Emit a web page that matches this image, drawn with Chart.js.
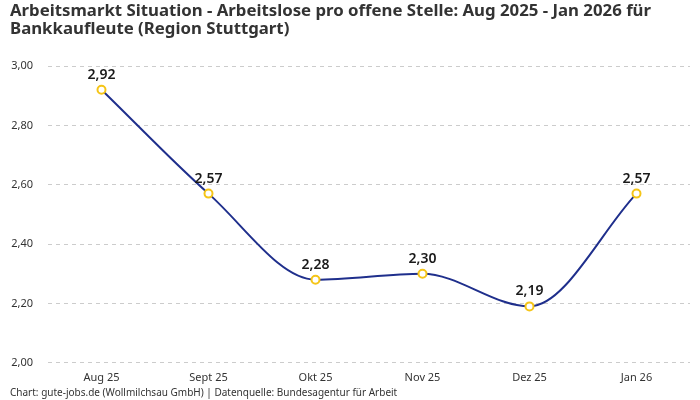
<!DOCTYPE html>
<html><head><meta charset="utf-8">
<script src="https://cdn.jsdelivr.net/npm/chart.js@4"></script>
<style>html,body{margin:0;padding:0;background:#fff}#w{width:700px;height:400px}</style>
</head><body><div id="w"><canvas id="c"></canvas></div>
<script>
const categories = ["Aug 25","Sept 25","Okt 25","Nov 25","Dez 25","Jan 26"];
const values = [2.92,2.57,2.28,2.30,2.19,2.57];
const titleLines = ["Arbeitsmarkt Situation - Arbeitslose pro offene Stelle: Aug 2025 - Jan 2026 für","Bankkaufleute (Region Stuttgart)"];
const footerText = "Chart: gute-jobs.de (Wollmilchsau GmbH) | Datenquelle: Bundesagentur für Arbeit";
const fmt = v => v.toFixed(2).replace('.', ',');
const FONT = "'Noto Sans', 'DejaVu Sans', sans-serif";

const labelPlugin = {
  id: 'vlabels',
  afterDatasetsDraw(chart){
    const ctx = chart.ctx;
    const meta = chart.getDatasetMeta(0);
    ctx.save();
    ctx.font = "600 14px " + FONT;
    ctx.fillStyle = '#1a1a1a';
    ctx.textAlign = 'center';
    ctx.textBaseline = 'bottom';
    meta.data.forEach((p,i)=>{ ctx.fillText(fmt(values[i]), p.x, p.y - 8); });
    ctx.restore();
  }
};

const textPlugin = {
  id: 'texts',
  afterDraw(chart){
    const ctx = chart.ctx;
    ctx.save();
    ctx.textAlign = 'left';
    ctx.textBaseline = 'middle';
    ctx.fillStyle = '#333333';
    ctx.font = "bold 16.8px " + FONT;
    titleLines.forEach((t,i)=> ctx.fillText(t, 10, 11 + i*18.5));
    ctx.font = "10px " + FONT;
    ctx.fillText(footerText, 10, 393.5);
    ctx.restore();
  }
};

new Chart(document.getElementById('c'), {
  type: 'line',
  data: { labels: categories, datasets: [{
    data: values,
    borderColor: '#1f2f8c',
    borderWidth: 2,
    cubicInterpolationMode: 'monotone',
    pointRadius: 4,
    pointBorderWidth: 2,
    pointBackgroundColor: '#ffffff',
    pointBorderColor: '#f5c518',
    fill: false
  }]},
  options: {
    responsive: true, maintainAspectRatio: false, animation: false,
    layout: { padding: { left: 0, right: 10, top: 66, bottom: 16 } },
    plugins: {
      legend: { display: false },
      tooltip: { enabled: false },
      title: { display: false },
      subtitle: { display: false }
    },
    scales: {
      x: { offset: true, grid: { display: false }, border: { display: false },
        ticks: { color: '#333', font: { family: FONT, size: 11 }, padding: 0 } },
      y: { min: 2.0, max: 3.0, border: { display: false, dash: [4,4] },
        grid: { color: '#cccccc', drawTicks: false },
        afterFit: s => { s.width = 48; },
        ticks: { stepSize: 0.2, color: '#333', font: { family: FONT, size: 11 }, padding: 15,
          callback: v => fmt(v) } }
    }
  },
  plugins: [labelPlugin, textPlugin]
});
</script></body></html>
